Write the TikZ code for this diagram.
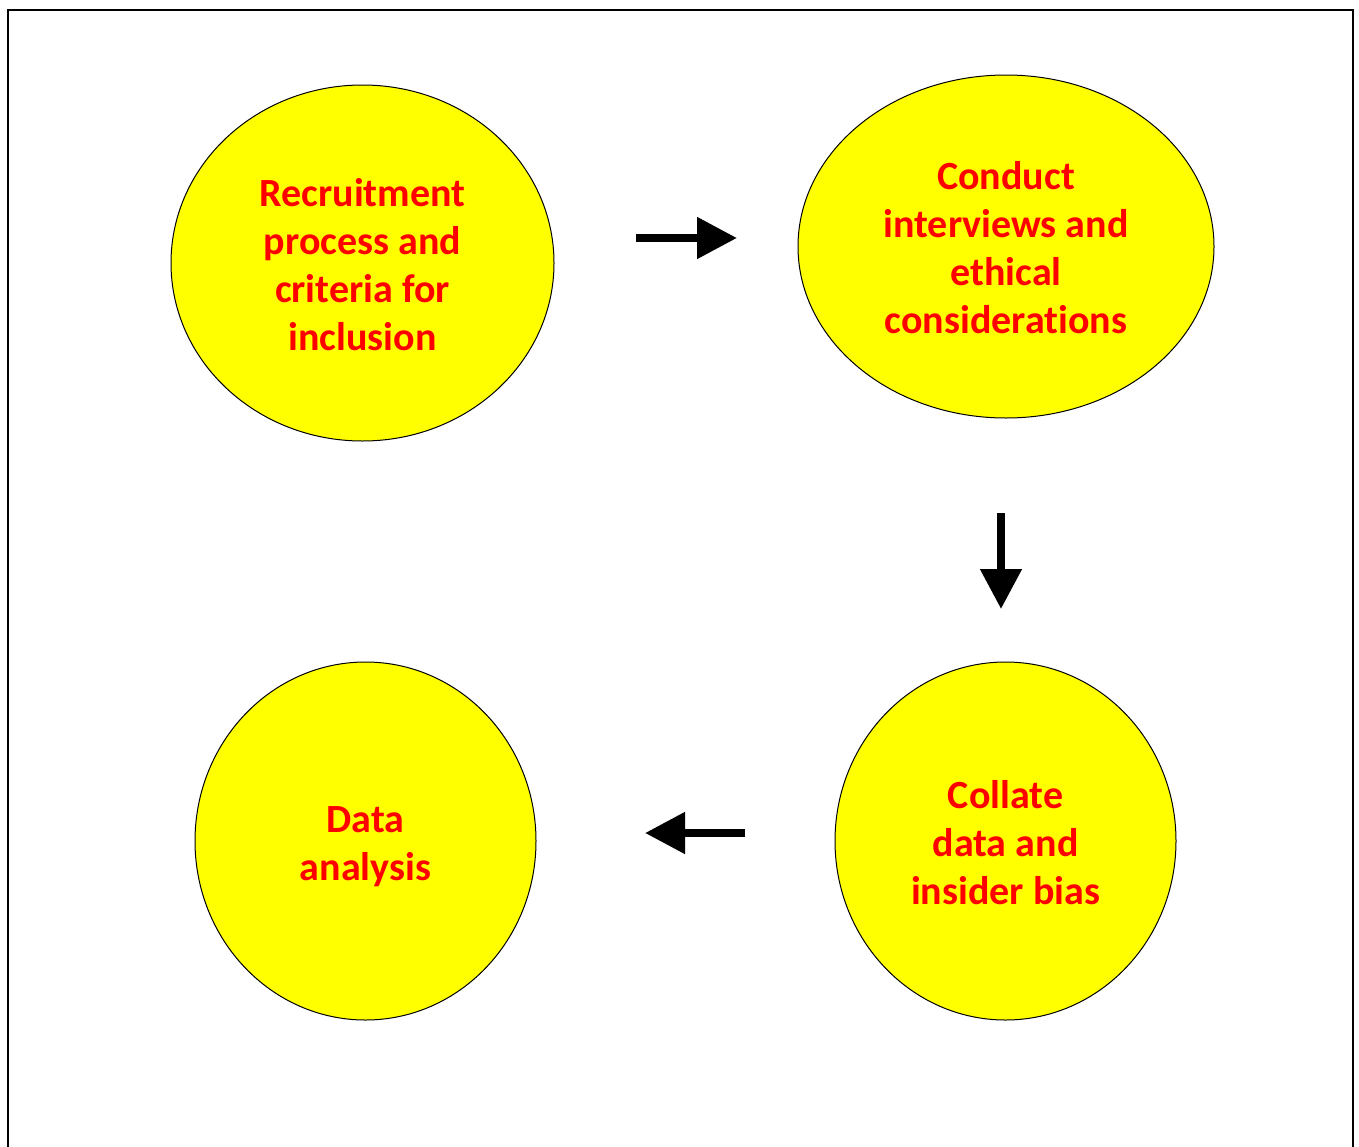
\documentclass[tikz,border=0pt]{standalone}
\usepackage{fontspec}
\setmainfont{Carlito}[Ligatures=NoCommon]
\usetikzlibrary{arrows.meta}
\definecolor{cyel}{RGB}{255,255,0}
\definecolor{cred}{RGB}{255,0,0}
\tikzset{
  ellipse-ish/.style={draw=black, line width=1pt, fill=cyel},
  lbl/.style={text=cred, font=\fontsize{40}{48}\selectfont\bfseries, align=center},
  bigarrow/.style={line width=8pt, -{Triangle[length=40pt,width=40pt]}}
}
\begin{document}
\begin{tikzpicture}[x=1pt,y=-1pt]
\useasboundingbox (0,0) rectangle (1359,1146);
\fill[white] (0,0) rectangle (1359,1146);
\draw[line width=2.2pt] (8,1150) -- (8,10) -- (1353,10) -- (1353,1150);
% circles
\draw[ellipse-ish] (362.5,263) ellipse [x radius=191.5, y radius=178];
\draw[ellipse-ish] (1006,246.5) ellipse [x radius=208, y radius=171.5];
\draw[ellipse-ish] (365.5,841) ellipse [x radius=170.5, y radius=179];
\draw[ellipse-ish] (1005.5,841) ellipse [x radius=170.5, y radius=179];
\node[lbl] (recruit) at (362.5,265) {Recruitment\\process and\\criteria for\\inclusion};
\node[lbl] (conduct) at (1006,248) {Conduct\\interviews and\\ethical\\considerations};
\node[lbl] (analysis) at (365.5,846.5) {Data\\analysis};
\node[lbl] (collate) at (1005.5,843) {Collate\\data and\\insider bias};
% arrows
\coordinate (a1s) at (636,238);
\coordinate (a1e) at (737,238);
\coordinate (a2s) at (1001,513);
\coordinate (a2e) at (1001,609);
\coordinate (a3s) at (745,833);
\coordinate (a3e) at (645,833);
\draw[bigarrow] (a1s) -- (a1e);
\draw[bigarrow] (a2s) -- (a2e);
\draw[bigarrow] (a3s) -- (a3e);
\end{tikzpicture}
\end{document}
